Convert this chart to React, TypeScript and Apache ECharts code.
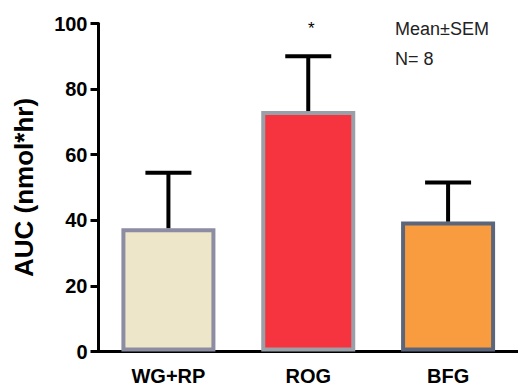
import React, { useEffect, useRef } from "react";
import * as echarts from "echarts";

const categories = ["WG+RP", "ROG", "BFG"];
const means = [37.6, 73.3, 39.6];
const sems = [16.9, 16.7, 11.9];
const significance = ["", "*", ""];
const fillColors = ["#eee6c8", "#f6343f", "#f99c40"];
const borderColors = ["#8c8ca2", "#9aa0a8", "#5c667a"];
const yTicks = { min: 0, max: 100, interval: 20 };
const noteLines = ["Mean±SEM", "N= 8"];

export default function App() {
  const ref = useRef<HTMLDivElement>(null);
  useEffect(() => {
    document.body.style.margin = "0";
    if (!ref.current) return;
    const chart = echarts.init(ref.current, null, { renderer: "svg" });
    const font = "'Liberation Sans', Arial, Helvetica, sans-serif";
    chart.setOption({
      animation: false,
      backgroundColor: "#ffffff",
      grid: { left: 98.5, top: 23.5, width: 423, bottom: 36.5, containLabel: false },
      xAxis: {
        type: "category",
        data: categories,
        axisLine: { lineStyle: { color: "#000", width: 3 } },
        axisTick: { alignWithLabel: true, length: 8, lineStyle: { color: "#000", width: 3 } },
        axisLabel: { color: "#000", fontSize: 20, fontWeight: "bold", fontFamily: font, margin: 14 },
        splitLine: { show: false },
      },
      yAxis: {
        type: "value",
        min: yTicks.min,
        max: yTicks.max,
        interval: yTicks.interval,
        name: "AUC (nmol*hr)",
        nameLocation: "middle",
        nameGap: 62,
        nameTextStyle: { color: "#000", fontSize: 26, fontWeight: "bold", fontFamily: font },
        axisLine: { show: true, lineStyle: { color: "#000", width: 3 } },
        axisTick: { show: true, length: 8, lineStyle: { color: "#000", width: 3 } },
        axisLabel: { color: "#000", fontSize: 20, fontWeight: "bold", fontFamily: font, margin: 11 },
        splitLine: { show: false },
      },
      series: [
        {
          type: "bar",
          barWidth: 94,
          data: means.map((v, i) => ({
            value: v,
            itemStyle: { color: fillColors[i], borderColor: borderColors[i], borderWidth: 4 },
          })),
          z: 2,
        },
        {
          type: "custom",
          z: 3,
          data: means.map((m, i) => [i, m, sems[i]]),
          renderItem: (params: any, api: any) => {
            const i = api.value(0);
            const m = api.value(1);
            const s = api.value(2);
            const base = api.coord([i, m]);
            const top = api.coord([i, m + s]);
            const half = 23;
            const children: any[] = [
              { type: "line", shape: { x1: base[0], y1: base[1], x2: top[0], y2: top[1] }, style: { stroke: "#000", lineWidth: 4 } },
              { type: "line", shape: { x1: top[0] - half, y1: top[1], x2: top[0] + half, y2: top[1] }, style: { stroke: "#000", lineWidth: 4 } },
            ];
            const mark = significance[params.dataIndex];
            if (mark) {
              children.push({
                type: "text",
                x: top[0] + 3,
                y: top[1] - 28,
                style: { text: mark, fill: "#000", fontSize: 17, fontFamily: font, align: "center", verticalAlign: "middle" },
              });
            }
            return { type: "group", children };
          },
        },
      ],
      graphic: [
        {
          type: "text",
          left: 395,
          top: 20,
          style: { text: noteLines[0], fill: "#222", fontSize: 18, fontFamily: font },
        },
        {
          type: "text",
          left: 395,
          top: 50,
          style: { text: noteLines[1], fill: "#222", fontSize: 18, fontFamily: font },
        },
      ],
    });
    return () => chart.dispose();
  }, []);
  return <div ref={ref} style={{ width: 518, height: 388 }} />;
}
